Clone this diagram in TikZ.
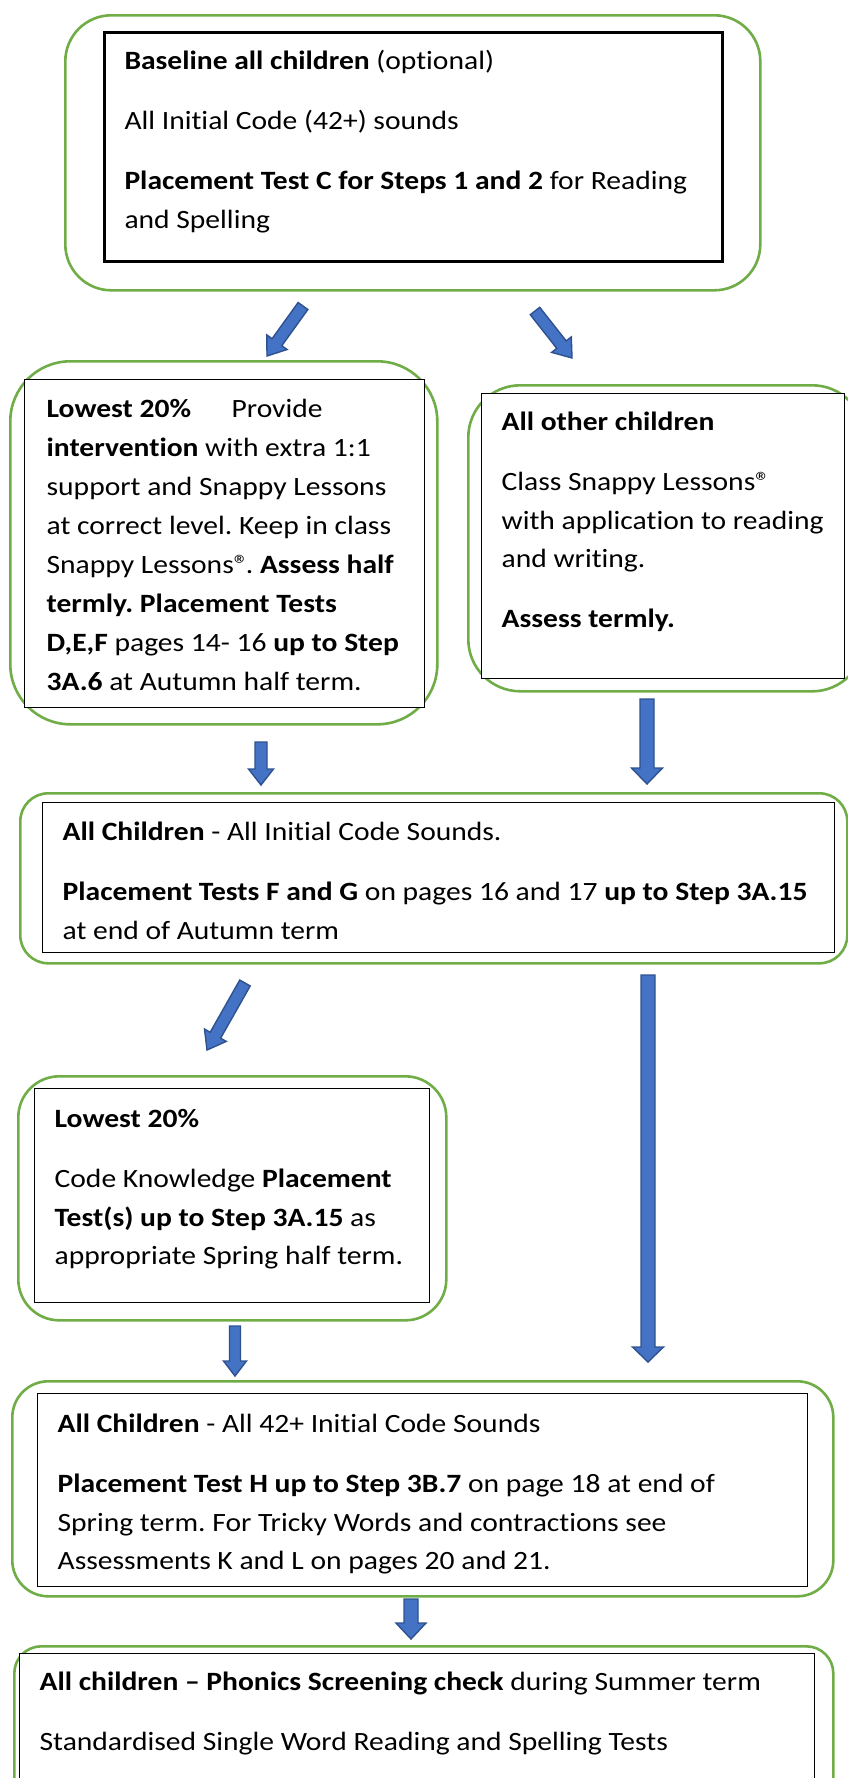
\documentclass[tikz,border=0pt]{standalone}
\usepackage{fontspec}
\setmainfont{Carlito}[FakeStretch=1.12, Ligatures={TeX,NoCommon}]
\usetikzlibrary{calc}
\definecolor{boxgreen}{HTML}{70AD47}
\definecolor{arrowfill}{HTML}{4472C4}
\definecolor{arrowline}{HTML}{2F528F}
\newcommand{\regmark}{®}
% text block inside a black box: width, height, first-baseline offset, content
\newcommand{\bxt}[4]{\parbox[t][#2][t]{#1}{\fontsize{26.4pt}{38.5pt}\selectfont\frenchspacing
  \setlength{\parskip}{21.5pt}\setlength{\leftskip}{20pt}\setlength{\rightskip}{-60pt plus 1fil}%
  \rule{0pt}{#3}\ignorespaces #4}}
% block arrow: half shaft, half head, head length, tail, tip
\newcommand{\barrow}[5]{%
  \coordinate (neck) at ($(#5)!#3!(#4)$);
  \draw[blockarrow] ($(#4)!#1!90:(#5)$) -- ($(neck)!#1!-90:(#4)$) -- ($(neck)!#2!-90:(#4)$) -- (#5)
     -- ($(neck)!#2!90:(#4)$) -- ($(neck)!#1!90:(#4)$) -- ($(#4)!#1!-90:(#5)$) -- cycle;}
\tikzset{
  greenbox/.style={draw=boxgreen, line width=2.6pt, rounded corners=#1, anchor=north west, inner sep=0pt},
  blackbox/.style={draw=black, fill=white, line width=1.3pt, anchor=north west, inner sep=0pt},
  blockarrow/.style={draw=arrowline, fill=arrowfill, line width=1.4pt, line join=miter},
}
\begin{document}
\begin{tikzpicture}[x=1pt,y=-1pt]
\useasboundingbox (0,0) rectangle (848,1778);
\fill[white] (0,0) rectangle (848,1778);
\clip (0,0) rectangle (848,1778);

% green rounded frames
\node[greenbox=46pt, minimum width=695pt, minimum height=275pt] (g1) at (64,14) {};
\node[greenbox=60pt, minimum width=427pt, minimum height=363pt] (g2) at (9,360) {};
\node[greenbox=52pt, minimum width=396pt, minimum height=306pt] (g3) at (467,384) {};
\node[greenbox=28pt, minimum width=827pt, minimum height=170pt] (g4) at (19,792) {};
\node[greenbox=41pt, minimum width=428pt, minimum height=244pt] (g5) at (17,1075) {};
\node[greenbox=36pt, minimum width=821pt, minimum height=215pt] (g6) at (11,1380) {};
\node[greenbox=27pt, minimum width=819pt, minimum height=160pt] (g7) at (13,1645) {};

% black text boxes
\node[blackbox, line width=3pt, minimum width=618pt, minimum height=229pt] (b1) at (103,31)
 {\bxt{618pt}{229pt}{37pt}{\textbf{Baseline all children} (optional)\par
  All Initial Code (42+) sounds\par
  \textbf{Placement Test C for Steps 1 and 2} for Reading\\ and Spelling}};

\node[blackbox, minimum width=400pt, minimum height=328pt] (b2) at (24,379)
 {\bxt{400pt}{328pt}{38pt}{\setlength{\baselineskip}{39pt}%
  \hspace*{2pt}\makebox[185pt][l]{\textbf{Lowest 20\%}}Provide\\
  \hspace*{2pt}\textbf{intervention} with extra 1:1\\
  \hspace*{2pt}support and Snappy Lessons\\
  \hspace*{2pt}at correct level. Keep in class\\
  \hspace*{2pt}Snappy Lessons\regmark\kern-3pt. \textbf{Assess half}\\
  \hspace*{2pt}\textbf{termly. Placement Tests}\\
  \hspace*{2pt}\textbf{D,E,F} pages 14- 16 \textbf{up to Step}\\
  \hspace*{2pt}\textbf{3A.6} at Autumn half term.}};

\node[blackbox, minimum width=363pt, minimum height=285pt] (b3) at (481,393)
 {\bxt{363pt}{285pt}{37pt}{\textbf{All other children}\par
  Class Snappy Lessons\regmark\\ with application to reading\\ and writing.\par
  \textbf{Assess termly.}}};

\node[blackbox, minimum width=792pt, minimum height=150pt] (b4) at (42,802)
 {\bxt{792pt}{150pt}{38pt}{\textbf{All Children} - All Initial Code Sounds.\par
  \textbf{Placement Tests F and G} on pages 16 and 17 \textbf{up to Step 3A.15}\\ at end of Autumn term}};

\node[blackbox, minimum width=395pt, minimum height=214pt] (b5) at (34,1088)
 {\bxt{395pt}{214pt}{39pt}{\textbf{Lowest 20\%}\par
  Code Knowledge \textbf{Placement}\\ \textbf{Test(s) up to Step 3A.15} as\\ appropriate Spring half term.}};

\node[blackbox, minimum width=770pt, minimum height=193pt] (b6) at (37,1393)
 {\bxt{770pt}{193pt}{39pt}{\textbf{All Children} - All 42+ Initial Code Sounds\par
  \textbf{Placement Test H up to Step 3B.7} on page 18 at end of\\ Spring term. For Tricky Words and contractions see\\ Assessments K and L on pages 20 and 21.}};

\node[blackbox, minimum width=795pt, minimum height=150pt] (b7) at (19,1653)
 {\bxt{795pt}{150pt}{37pt}{\textbf{All children – Phonics Screening check} during Summer term\par
  Standardised Single Word Reading and Spelling Tests}};

% arrow end points
\coordinate (a1s) at (303,306); \coordinate (a1e) at (267,356);
\coordinate (a2s) at (535,311); \coordinate (a2e) at (572,358);
\coordinate (a3s) at (261,742); \coordinate (a3e) at (261,785);
\coordinate (a4s) at (647,699); \coordinate (a4e) at (647,784);
\coordinate (a5s) at (245,983); \coordinate (a5e) at (207,1050);
\coordinate (a6s) at (648,975); \coordinate (a6e) at (648,1362);
\coordinate (a7s) at (235,1326); \coordinate (a7e) at (235,1376);
\coordinate (a8s) at (411,1599); \coordinate (a8e) at (411,1639);

\barrow{6pt}{12.5pt}{17pt}{a1s}{a1e}
\barrow{6pt}{12.5pt}{17pt}{a2s}{a2e}
\barrow{6pt}{12.5pt}{16pt}{a3s}{a3e}
\barrow{7pt}{15.5pt}{16pt}{a4s}{a4e}
\barrow{6pt}{12.5pt}{17pt}{a5s}{a5e}
\barrow{7pt}{15.5pt}{15pt}{a6s}{a6e}
\barrow{5.5pt}{11.5pt}{15pt}{a7s}{a7e}
\barrow{7pt}{15pt}{16pt}{a8s}{a8e}
\end{tikzpicture}
\end{document}
